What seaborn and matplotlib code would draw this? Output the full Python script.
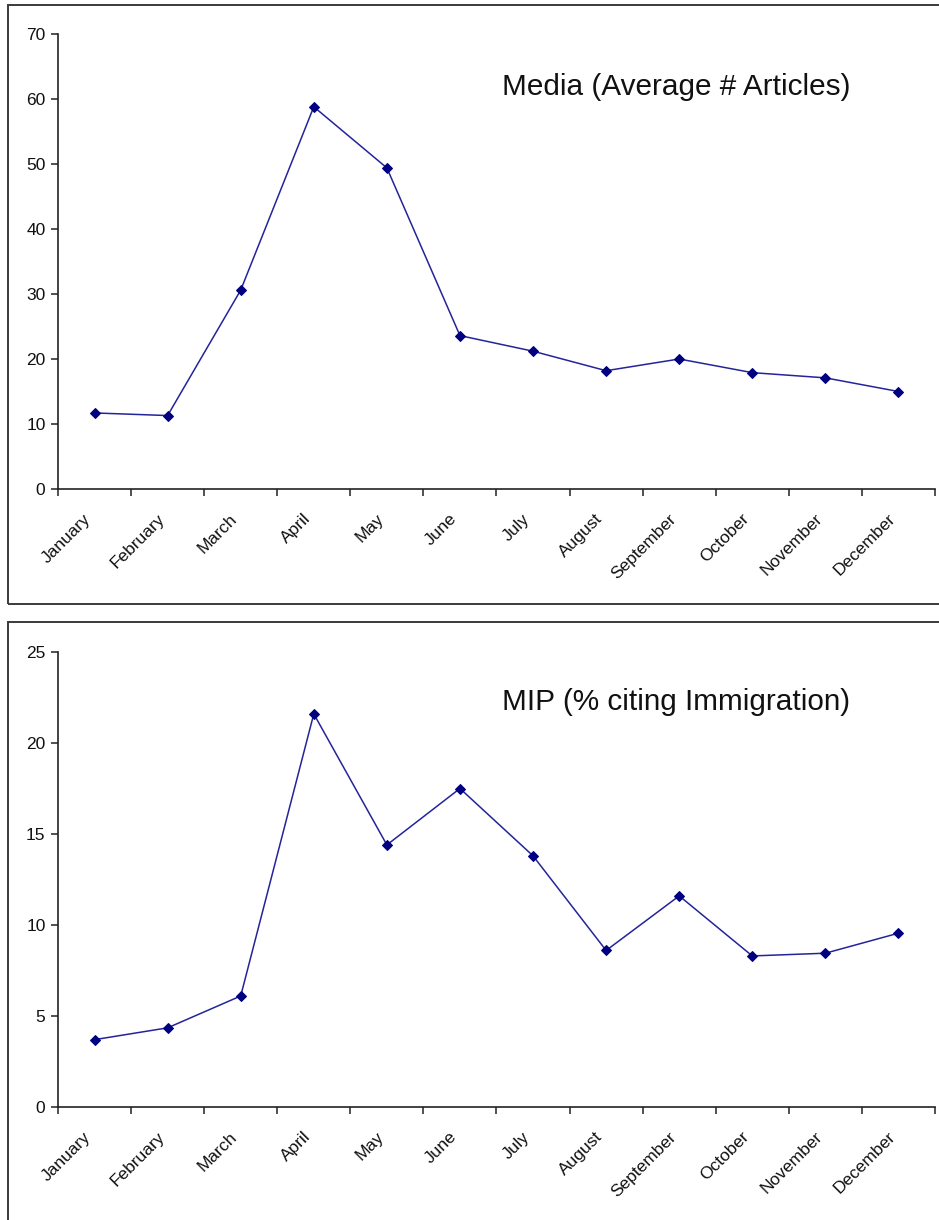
import numpy as np
import pandas as pd
import matplotlib
matplotlib.use("Agg")
import matplotlib.pyplot as plt
from matplotlib.patches import Rectangle
import seaborn as sns

months = ["January", "February", "March", "April", "May", "June", "July",
          "August", "September", "October", "November", "December"]
media_articles = [11.7, 11.3, 30.6, 58.8, 49.4, 23.6, 21.2, 18.2, 20.0, 17.9, 17.1, 15.0]
mip_immigration = [3.7, 4.35, 6.1, 21.6, 14.4, 17.5, 13.8, 8.6, 11.6, 8.3, 8.45, 9.55]

media_yticks = [0, 10, 20, 30, 40, 50, 60, 70]
mip_yticks = [0, 5, 10, 15, 20, 25]

sns.set_theme(style="white")
plt.rcParams["font.family"] = ["Liberation Sans", "DejaVu Sans"]

W, H = 939, 1220
fig = plt.figure(figsize=(W / 100, H / 100), dpi=100)
fig.patch.set_facecolor("white")

# panel frames
def frame(x0, y0, x1, y1):
    fig.add_artist(Rectangle((x0 / W, 1 - y1 / H), (x1 - x0) / W, (y1 - y0) / H,
                             transform=fig.transFigure, fill=False,
                             edgecolor="#3a3a3a", linewidth=1.4, clip_on=False))

frame(8, 5, 960, 604)
frame(8, 622, 960, 1240)

def axes_box(top_px, bottom_px, left_px=58, right_px=935):
    return [left_px / W, 1 - bottom_px / H, (right_px - left_px) / W, (bottom_px - top_px) / H]

line_color = "#24249a"
marker_color = "#000080"

def panel(rect, values, yticks, title, title_y):
    ax = fig.add_axes(rect)
    df = pd.DataFrame({"pos": np.arange(len(months)), "value": values})
    sns.lineplot(data=df, x="pos", y="value", ax=ax, color=line_color,
                 linewidth=1.1, marker="D", markersize=5.5,
                 markerfacecolor=marker_color, markeredgecolor=marker_color)
    ax.set_xlim(-0.5, len(months) - 0.5)
    ax.set_ylim(yticks[0], yticks[-1])
    ax.set_yticks(yticks)
    ax.set_yticklabels([str(t) for t in yticks], fontsize=12.5, color="#111111")
    # tick marks between categories; rotated labels hang just left of each category
    ax.set_xticks(np.arange(len(months) + 1) - 0.5)
    ax.set_xticklabels([])
    ax.set_xticks(np.arange(len(months)) - 0.15, minor=True)
    ax.set_xticklabels(months, minor=True, rotation=45, ha="right", va="top",
                       rotation_mode="anchor", fontsize=12.5, color="#111111")
    ax.tick_params(axis="x", which="major", direction="out", length=5, width=1.1,
                   color="#222222", bottom=True)
    ax.tick_params(axis="x", which="minor", length=0, pad=16)
    ax.tick_params(axis="y", direction="out", length=5, width=1.1,
                   color="#222222", left=True, pad=4)
    ax.set_xlabel("")
    ax.set_ylabel("")
    for side in ["top", "right"]:
        ax.spines[side].set_visible(False)
    for side in ["left", "bottom"]:
        ax.spines[side].set_color("#222222")
        ax.spines[side].set_linewidth(1.2)
    ax.set_facecolor("white")
    ax.text(0.506, title_y, title, transform=ax.transAxes, fontsize=21.4,
            color="#111111", ha="left", va="baseline")
    return ax

panel(axes_box(34, 489), media_articles, media_yticks,
      "Media (Average # Articles)", 0.866)
panel(axes_box(652, 1107), mip_immigration, mip_yticks,
      "MIP (% citing Immigration)", 0.8725)

fig.savefig("out.png", dpi=100, facecolor="white")
